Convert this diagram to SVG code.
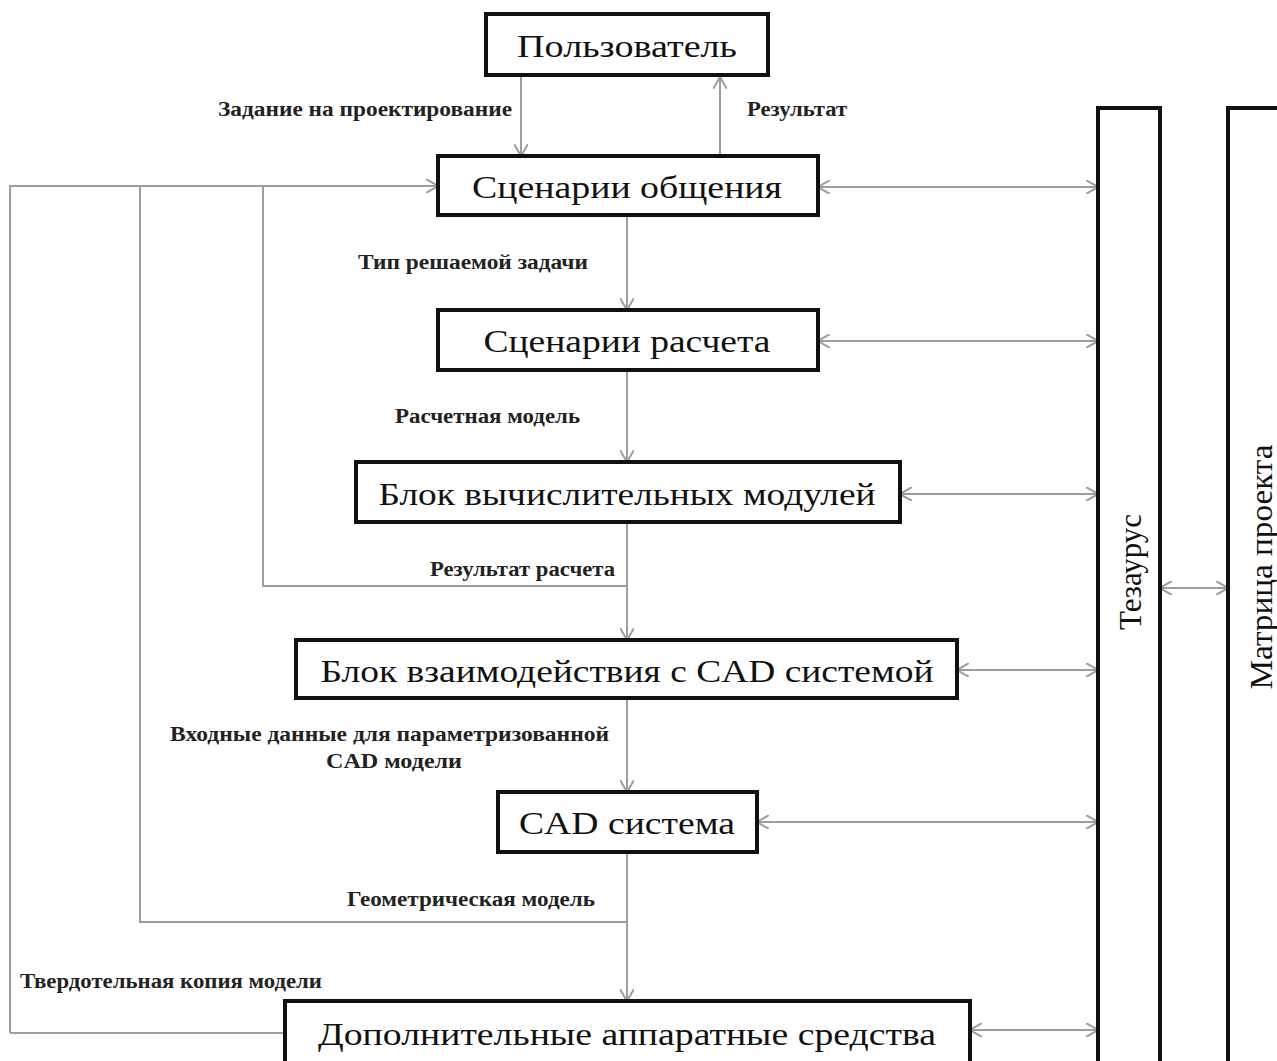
<svg xmlns="http://www.w3.org/2000/svg" width="1277" height="1061" viewBox="0 0 1277 1061">
<defs>
<style>
.box{fill:#fff;stroke:#111;stroke-width:4}
.bt{font-family:"Liberation Serif","DejaVu Serif",serif;font-size:31px;fill:#111;text-anchor:middle}
.lb{font-family:"Liberation Serif","DejaVu Serif",serif;font-size:20px;font-weight:bold;fill:#222}
.c{fill:none;stroke:#a09e9b;stroke-width:2}
</style>
<marker id="ah" viewBox="0 0 12 14" refX="12" refY="7" markerWidth="12" markerHeight="14" markerUnits="userSpaceOnUse" orient="auto-start-reverse">
<path d="M0,0 L12,7 L0,14" fill="none" stroke="#a09e9b" stroke-width="2"/>
</marker>
</defs>
<g id="connectors">
<line class="c" x1="521" y1="75" x2="521" y2="156" marker-end="url(#ah)"/>
<line class="c" x1="720" y1="156" x2="720" y2="77" marker-end="url(#ah)"/>
<polyline class="c" points="10,1033 10,186 438,186" marker-end="url(#ah)"/>
<line class="c" x1="10" y1="1033" x2="285" y2="1033"/>
<polyline class="c" points="140,186 140,922 627,922"/>
<polyline class="c" points="263,186 263,586 627,586"/>
<line class="c" x1="627" y1="215" x2="627" y2="310" marker-end="url(#ah)"/>
<line class="c" x1="627" y1="370" x2="627" y2="462" marker-end="url(#ah)"/>
<line class="c" x1="627" y1="522" x2="627" y2="640" marker-end="url(#ah)"/>
<line class="c" x1="627" y1="698" x2="627" y2="792" marker-end="url(#ah)"/>
<line class="c" x1="627" y1="852" x2="627" y2="1001" marker-end="url(#ah)"/>
<line class="c" x1="818" y1="187" x2="1098" y2="187" marker-start="url(#ah)" marker-end="url(#ah)"/>
<line class="c" x1="818" y1="341" x2="1098" y2="341" marker-start="url(#ah)" marker-end="url(#ah)"/>
<line class="c" x1="900" y1="494" x2="1098" y2="494" marker-start="url(#ah)" marker-end="url(#ah)"/>
<line class="c" x1="957" y1="670" x2="1098" y2="670" marker-start="url(#ah)" marker-end="url(#ah)"/>
<line class="c" x1="757" y1="822" x2="1098" y2="822" marker-start="url(#ah)" marker-end="url(#ah)"/>
<line class="c" x1="970" y1="1030" x2="1098" y2="1030" marker-start="url(#ah)" marker-end="url(#ah)"/>
<line class="c" x1="1160" y1="588" x2="1228" y2="588" marker-start="url(#ah)" marker-end="url(#ah)"/>
</g>
<g id="labels">
<text class="lb" x="218" y="116" textLength="294" lengthAdjust="spacingAndGlyphs">Задание на проектирование</text>
<text class="lb" x="747" y="116" textLength="100" lengthAdjust="spacingAndGlyphs">Результат</text>
<text class="lb" x="358" y="269" textLength="230" lengthAdjust="spacingAndGlyphs">Тип решаемой задачи</text>
<text class="lb" x="395" y="423" textLength="185" lengthAdjust="spacingAndGlyphs">Расчетная модель</text>
<text class="lb" x="430" y="576" textLength="185" lengthAdjust="spacingAndGlyphs">Результат расчета</text>
<text class="lb" x="170" y="741" textLength="439" lengthAdjust="spacingAndGlyphs">Входные данные для параметризованной</text>
<text class="lb" x="326" y="768" textLength="136" lengthAdjust="spacingAndGlyphs">CAD модели</text>
<text class="lb" x="347" y="906" textLength="248" lengthAdjust="spacingAndGlyphs">Геометрическая модель</text>
<text class="lb" x="20" y="988" textLength="302" lengthAdjust="spacingAndGlyphs">Твердотельная копия модели</text>
</g>
<g id="user"><rect class="box" x="486" y="14" width="282" height="61"/><text class="bt" x="627" y="57" textLength="220" lengthAdjust="spacingAndGlyphs">Пользователь</text></g>
<g id="scen-obsh"><rect class="box" x="438" y="156" width="380" height="59"/><text class="bt" x="627" y="198" textLength="310" lengthAdjust="spacingAndGlyphs">Сценарии общения</text></g>
<g id="scen-rasch"><rect class="box" x="438" y="310" width="380" height="60"/><text class="bt" x="627" y="352" textLength="287" lengthAdjust="spacingAndGlyphs">Сценарии расчета</text></g>
<g id="blok-vych"><rect class="box" x="356" y="462" width="544" height="60"/><text class="bt" x="627" y="505" textLength="497" lengthAdjust="spacingAndGlyphs">Блок вычислительных модулей</text></g>
<g id="blok-cad"><rect class="box" x="296" y="640" width="661" height="58"/><text class="bt" x="627" y="682" textLength="613" lengthAdjust="spacingAndGlyphs">Блок взаимодействия с CAD системой</text></g>
<g id="cad"><rect class="box" x="498" y="792" width="259" height="60"/><text class="bt" x="627" y="834" textLength="216" lengthAdjust="spacingAndGlyphs">CAD система</text></g>
<g id="dop"><rect class="box" x="285" y="1001" width="685" height="80"/><text class="bt" x="627" y="1045" textLength="618" lengthAdjust="spacingAndGlyphs">Дополнительные аппаратные средства</text></g>
<g id="thesaurus"><rect class="box" x="1098" y="108" width="62" height="1000"/><text class="bt" transform="translate(1141,572) rotate(-90)" textLength="116" lengthAdjust="spacingAndGlyphs">Тезаурус</text></g>
<g id="matrix"><rect class="box" x="1228" y="108" width="100" height="1000"/><text class="bt" transform="translate(1272,567) rotate(-90)" textLength="245" lengthAdjust="spacingAndGlyphs">Матрица проекта</text></g>
</svg>
